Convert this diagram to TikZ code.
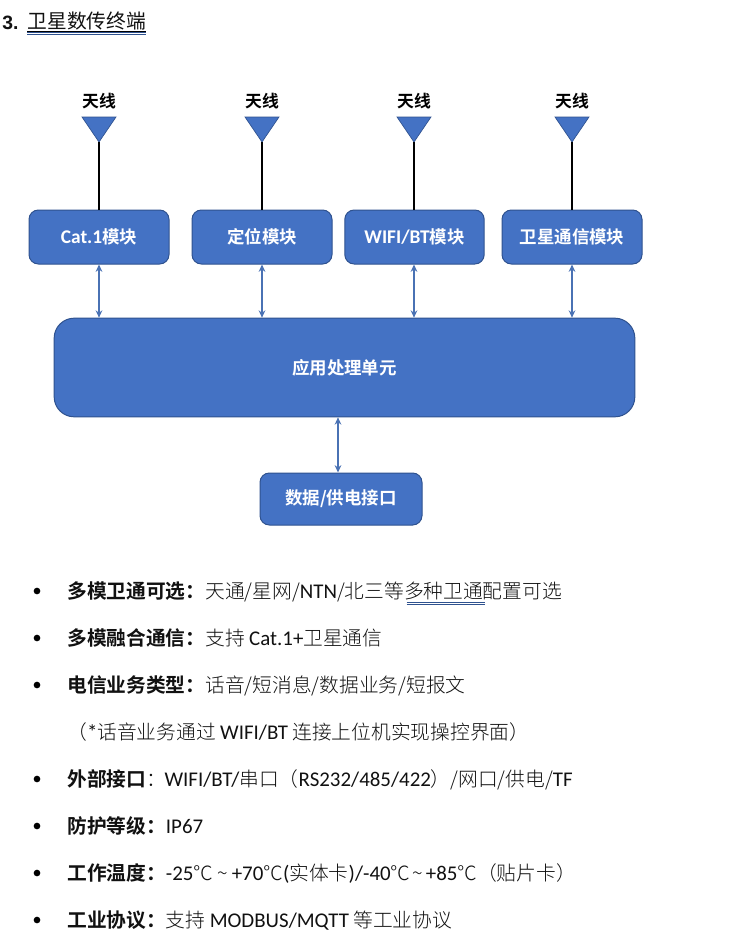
\documentclass[tikz,border=0pt]{standalone}
\usepackage{fontspec}
\usetikzlibrary{arrows.meta}
\setmainfont{Noto Sans CJK SC}[UprightFont=* Light,BoldFont=* Bold]
\newfontfamily\reg{Noto Sans CJK SC}
\newfontfamily\lat{Carlito}[Scale=1.06]
\newfontfamily\latb{Carlito}[Scale=1.11]
\newfontfamily\hd{Liberation Sans}
\newcommand{\La}[1]{{\lat #1}}
\newcommand{\Lb}[1]{{\latb\bfseries #1}}
\newcommand{\Bx}[1]{\raisebox{-0.6pt}{#1}}
\newcommand{\Tl}[1]{\hspace{#1}\textasciitilde\hspace{#1}}
\definecolor{fillblue}{HTML}{4472C4}
\definecolor{edgeblue}{HTML}{2F528F}
\definecolor{linkblue}{HTML}{4A72B4}
\definecolor{inkline}{HTML}{111111}
\tikzset{
 x=0.75pt,y=-0.75pt,
 modbox/.style={draw=edgeblue,line width=0.75pt,fill=fillblue,rounded corners=7pt,inner sep=0pt,text=white,font=\fontsize{13.1pt}{15pt}\selectfont\bfseries},
 antennatri/.style={draw=edgeblue,line width=0.5pt,fill=fillblue},
 antlabel/.style={font=\fontsize{12.6pt}{14pt}\selectfont\bfseries,inner sep=0pt,text=black},
 feed/.style={draw=black,line width=1.4pt},
 link/.style={draw=linkblue,line width=1pt,{Stealth[length=5.5pt,width=5pt]}-{Stealth[length=5.5pt,width=5pt]}},
 listtxt/.style={anchor=base west,inner sep=0pt,font=\fontsize{14.8pt}{18pt}\selectfont,text=inkline},
 dot/.style={circle,fill=black,inner sep=0pt,minimum size=5pt},
 wavy/.style={draw=edgeblue,line width=0.6pt},
}
\begin{document}
\begin{tikzpicture}
\useasboundingbox (0,0) rectangle (746,949);
\fill[white] (0,0) rectangle (746,949);
% title
\node[listtxt,font=\fontsize{14.5pt}{16pt}\selectfont\bfseries\hd] (num) at (2,30) {3.};
\node[listtxt,font=\fontsize{14.8pt}{18pt}\selectfont\reg] (title) at (27.5,29) {卫星数传终端};
\draw[black,line width=0.6pt] (27,31) -- (146,31);
\draw[wavy] (27,32.8) -- (146,32.8) (27,34.4) -- (146,34.4);
% modules
\node[modbox,minimum width=105pt,minimum height=40.5pt] (m1) at (99,237) {\Bx{\Lb{Cat.1}模块}};
\node[modbox,minimum width=105pt,minimum height=40.5pt] (m2) at (262,237) {\Bx{定位模块}};
\node[modbox,minimum width=104.5pt,minimum height=40.5pt] (m3) at (414.5,237) {\Bx{\Lb{WIFI/BT}模块}};
\node[modbox,minimum width=105pt,minimum height=40.5pt] (m4) at (572,237) {\Bx{卫星通信模块}};
\node[modbox,rounded corners=15pt,minimum width=435.5pt,minimum height=74pt] (cpu) at (344.5,367.5) {\Bx{应用处理单元}};
\node[modbox,minimum width=121.5pt,minimum height=39pt] (port) at (341,499) {\Bx{数据/供电接口}};
% antennas
\foreach \n/\cx in {1/99,2/262,3/414,4/572}{
  \draw[antennatri] (\cx-17,117) -- (\cx+17,117) -- (\cx,142) -- cycle;
  \coordinate (tip\n) at (\cx,142);
  \node[antlabel] (lab\n) at (\cx,101) {天线};
  \draw[feed] (tip\n) -- (tip\n |- m\n.north);
  \draw[link] (tip\n |- m\n.south) -- (tip\n |- cpu.north);
}
\coordinate (busx) at (338,445);
\draw[link] (busx |- cpu.south) -- (busx |- port.north);
% list
\foreach \i/\y in {a/591,b/638,c/685,e/779,f/826,g/873,h/920}{
  \node[dot] (bul\i) at (37,\y) {};
}
\node[listtxt] (ta) at (67,598) {\textbf{多模卫通可选：}天通/星网/\La{NTN}/北三等多种卫通配置可选};
\draw[wavy] (406.5,602.5) -- (485,602.5) (406.5,604.2) -- (485,604.2);
\node[listtxt] (tb) at (67,645) {\textbf{多模融合通信：}支持 \La{Cat.1+}卫星通信};
\node[listtxt] (tc) at (67,692) {\textbf{电信业务类型：}话音/短消息/数据业务/短报文};
\node[listtxt] (td) at (67,739) {（\La{*}话音业务通过 \La{WIFI/BT} 连接上位机实现操控界面）};
\node[listtxt] (te) at (67,786) {\textbf{外部接口}：\hspace{-1pt}\La{WIFI/BT/}串口（\La{RS232/485/422}）/网口/供电/\La{TF}};
\node[listtxt] (tf) at (67,833) {\textbf{防护等级：}\La{IP67}};
\node[listtxt] (tg) at (67,880) {\textbf{工作温度：}\La{-25}℃\Tl{3pt}\La{+70}℃\La{(}实体卡\La{)/-40}℃\Tl{1.8pt}\La{+85}℃（贴片卡）};
\node[listtxt] (th) at (67,927) {\textbf{工业协议：}支持 \La{MODBUS/MQTT} 等工业协议};
\end{tikzpicture}
\end{document}
